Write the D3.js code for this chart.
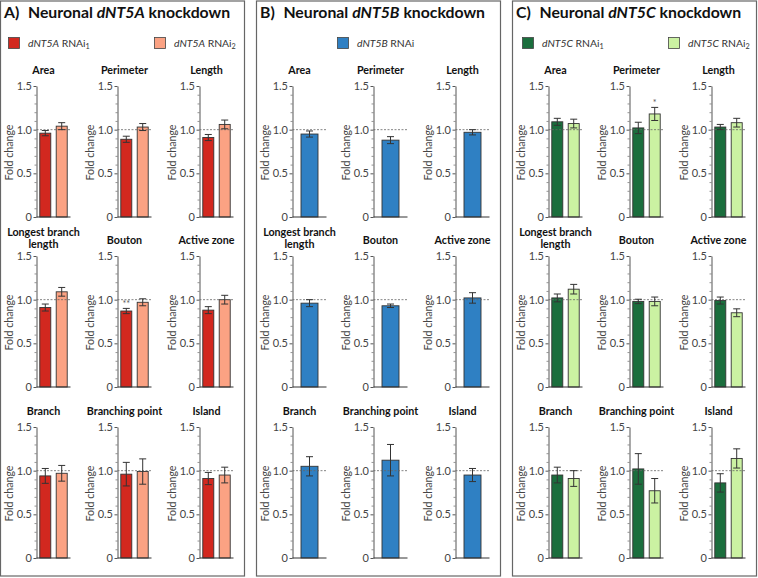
<!DOCTYPE html>
<html><head><meta charset="utf-8">
<script src="https://cdn.jsdelivr.net/npm/d3@7"></script>
<style>
body{margin:0;background:#fff;}
svg{display:block;font-family:Lato,"Open Sans",sans-serif;}
</style></head>
<body><svg id="c" width="758" height="578"></svg>
<script>
// ---------- data ----------
const metrics = ["Area","Perimeter","Length","Longest branch length","Bouton","Active zone","Branch","Branching point","Island"];
const metricTitleLines = [["Area"],["Perimeter"],["Length"],["Longest branch","length"],["Bouton"],["Active zone"],["Branch"],["Branching point"],["Island"]];
const yTicks = [0, 0.5, 1.0, 1.5];
const yTickLabels = ["0", "0.5", "1.0", "1.5"];

const dNT5A_RNAi1_mean = [0.96, 0.89, 0.91, 0.91, 0.87, 0.88, 0.94, 0.96, 0.91];
const dNT5A_RNAi1_sem  = [0.03, 0.035, 0.035, 0.04, 0.03, 0.04, 0.085, 0.135, 0.07];
const dNT5A_RNAi2_mean = [1.04, 1.03, 1.06, 1.09, 0.97, 1.00, 0.97, 0.99, 0.95];
const dNT5A_RNAi2_sem  = [0.04, 0.04, 0.05, 0.05, 0.04, 0.05, 0.09, 0.145, 0.09];

const dNT5B_RNAi_mean = [0.95, 0.88, 0.97, 0.96, 0.93, 1.02, 1.05, 1.12, 0.95];
const dNT5B_RNAi_sem  = [0.035, 0.04, 0.03, 0.04, 0.02, 0.06, 0.11, 0.18, 0.075];

const dNT5C_RNAi1_mean = [1.09, 1.02, 1.03, 1.02, 0.98, 0.99, 0.95, 1.02, 0.86];
const dNT5C_RNAi1_sem  = [0.04, 0.065, 0.03, 0.045, 0.025, 0.04, 0.09, 0.175, 0.105];
const dNT5C_RNAi2_mean = [1.07, 1.18, 1.08, 1.12, 0.98, 0.85, 0.91, 0.77, 1.14];
const dNT5C_RNAi2_sem  = [0.05, 0.075, 0.05, 0.055, 0.05, 0.045, 0.09, 0.14, 0.11];

// significance marks: [series index, metric index, label]
const dNT5A_sig = [[0, 4, "**"]];
const dNT5B_sig = [];
const dNT5C_sig = [[1, 1, "*"]];

const panels = [
  {letter:"A)", gene:"dNT5A", series:[
     {name:"RNAi", sub:"1", mean:dNT5A_RNAi1_mean, sem:dNT5A_RNAi1_sem, color:"#d2281f"},
     {name:"RNAi", sub:"2", mean:dNT5A_RNAi2_mean, sem:dNT5A_RNAi2_sem, color:"#fba283"}], sig:dNT5A_sig},
  {letter:"B)", gene:"dNT5B", series:[
     {name:"RNAi", sub:"", mean:dNT5B_RNAi_mean, sem:dNT5B_RNAi_sem, color:"#2f80c3"}], sig:dNT5B_sig},
  {letter:"C)", gene:"dNT5C", series:[
     {name:"RNAi", sub:"1", mean:dNT5C_RNAi1_mean, sem:dNT5C_RNAi1_sem, color:"#1b6e3d"},
     {name:"RNAi", sub:"2", mean:dNT5C_RNAi2_mean, sem:dNT5C_RNAi2_sem, color:"#cbf2a2"}], sig:dNT5C_sig}
];

// ---------- layout ----------
const svg = d3.select("#c");
const panelX = [0.5, 256.5, 512.5];
const panelW = 244, panelTop = 1, panelH = 575;
const colAxis = [36, 117, 199];
const rowBase = [217, 387, 558];
const plotH = 131, plotW = 34;
const legendLayouts = [[8, 154], [81], [10, 156]];
const textCol = "#333";

// text builders (used for measuring and drawing)
function panelTitle(parent, x, y, fs, letter, gene) {
  const t = parent.append("text").attr("x", x).attr("y", y)
    .attr("font-size", fs).attr("font-weight", "bold").attr("fill", "#111");
  t.append("tspan").text(letter);
  t.append("tspan").attr("dx", fs * 0.55).text("Neuronal ");
  t.append("tspan").attr("font-style", "italic").text(gene);
  t.append("tspan").text(" knockdown");
  return t;
}
function legendText(parent, x, y, fs, gene, name, sub) {
  const lt = parent.append("text").attr("x", x).attr("y", y).attr("font-size", fs).attr("fill", textCol);
  lt.append("tspan").attr("font-style", "italic").text(gene);
  lt.append("tspan").text(" " + name);
  if (sub) lt.append("tspan").attr("font-size", fs * 0.7).attr("dy", fs * 0.22).text(sub);
  return lt;
}
function plainText(parent, x, y, fs, weight, str) {
  return parent.append("text").attr("x", x).attr("y", y).attr("font-size", fs).attr("font-weight", weight).text(str);
}
function fit(builder, target) {
  const base = 12;
  const el = builder(base);
  const w = el.node().getBBox().width;
  el.remove();
  return base * target / w;
}
const fsPanel = fit(fs => panelTitle(svg, 0, 50, fs, "A)", "dNT5A"), 228);
const fsLeg = fit(fs => legendText(svg, 0, 50, fs, "dNT5A", "RNAi", "1"), 62);
const fsSub = fit(fs => plainText(svg, 0, 50, fs, "bold", "Branching point"), 76);
const fsYLab = fit(fs => plainText(svg, 0, 50, fs, "normal", "Fold change"), 56);
const fsTick = 11;

panels.forEach((p, pi) => {
  const px = panelX[pi];
  const g = svg.append("g");
  g.append("rect").attr("x", px).attr("y", panelTop).attr("width", panelW).attr("height", panelH)
    .attr("fill", "none").attr("stroke", "#666").attr("stroke-width", 1.2);

  panelTitle(g, px + 3.5, 18, fsPanel, p.letter, p.gene);

  // legend
  p.series.forEach((s, si) => {
    const lx = px + legendLayouts[pi][si];
    g.append("rect").attr("x", lx).attr("y", 37.5).attr("width", 11).attr("height", 11)
      .attr("fill", s.color).attr("stroke", "#444").attr("stroke-width", 0.8);
    legendText(g, lx + 19.5, 47, fsLeg, p.gene, s.name, s.sub);
  });

  metrics.forEach((m, mi) => {
    const r = Math.floor(mi / 3), c = mi % 3;
    const ax = px + colAxis[c];
    const y0 = rowBase[r];
    const y = d3.scaleLinear().domain([0, 1.5]).range([y0, y0 - plotH]);
    const x = d3.scaleBand().domain(p.series.map((s, i) => i)).range([ax, ax + plotW]);
    if (p.series.length === 1) x.paddingInner(0).paddingOuter(0.5);
    else x.paddingInner(0.33).paddingOuter(0.2);

    const cg = g.append("g");
    // title
    const lines = metricTitleLines[mi];
    const singleBase = (y0 - plotH) - 12;
    lines.forEach((ln, li) => {
      const yy = lines.length === 1 ? singleBase : singleBase + 3.5 - (lines.length - 1 - li) * 11.5;
      plainText(cg, ax + 7, yy, fsSub, "bold", ln).attr("text-anchor", "middle").attr("fill", "#111");
    });

    // minor ticks
    const minor = d3.range(1, 15).map(d => d / 10).filter(v => Math.abs(v - 0.5) > 1e-6 && Math.abs(v - 1.0) > 1e-6);
    cg.append("g").attr("transform", `translate(${ax},0)`)
      .call(d3.axisLeft(y).tickValues(minor).tickSize(2).tickFormat(""))
      .call(a => a.select(".domain").remove())
      .call(a => a.selectAll("line").attr("stroke", "#666").attr("stroke-width", 0.7));
    // major axis
    cg.append("g").attr("transform", `translate(${ax},0)`)
      .call(d3.axisLeft(y).tickValues(yTicks).tickSize(3).tickSizeOuter(0).tickPadding(1.5)
        .tickFormat((d, i) => yTickLabels[i]))
      .call(a => a.select(".domain").attr("stroke", "#555"))
      .call(a => a.selectAll("line").attr("stroke", "#555"))
      .call(a => a.selectAll("text").attr("font-size", fsTick).attr("fill", "#444").attr("font-family", "Lato,'Open Sans',sans-serif"));

    // y label
    cg.append("text").attr("transform", `translate(${ax - 23.5},${y0 - plotH / 2 + 1}) rotate(-90)`)
      .attr("text-anchor", "middle").attr("font-size", fsYLab).attr("fill", "#444").text("Fold change");

    // bars
    p.series.forEach((s, si) => {
      cg.append("rect").attr("x", x(si)).attr("y", y(s.mean[mi]))
        .attr("width", x.bandwidth()).attr("height", y(0) - y(s.mean[mi]))
        .attr("fill", s.color).attr("stroke", "#333").attr("stroke-width", 0.9);
    });

    // dashed reference line at 1.0
    cg.append("line").attr("x1", ax).attr("x2", ax + plotW).attr("y1", y(1)).attr("y2", y(1))
      .attr("stroke", "#666").attr("stroke-width", 0.8).attr("stroke-dasharray", "2,1.5");

    // error bars
    p.series.forEach((s, si) => {
      const cx = x(si) + x.bandwidth() / 2;
      const hi = y(s.mean[mi] + s.sem[mi]), lo = y(s.mean[mi] - s.sem[mi]);
      const eg = cg.append("g").attr("stroke", "#333").attr("stroke-width", 1);
      eg.append("line").attr("x1", cx).attr("x2", cx).attr("y1", hi).attr("y2", lo);
      eg.append("line").attr("x1", cx - 3.5).attr("x2", cx + 3.5).attr("y1", hi).attr("y2", hi);
      eg.append("line").attr("x1", cx - 3.5).attr("x2", cx + 3.5).attr("y1", lo).attr("y2", lo);
    });

    // baseline
    cg.append("line").attr("x1", ax).attr("x2", ax + plotW).attr("y1", y0).attr("y2", y0)
      .attr("stroke", "#333").attr("stroke-width", 1);

    // significance
    p.sig.filter(sg => sg[1] === mi).forEach(sg => {
      const s = p.series[sg[0]];
      const cx = x(sg[0]) + x.bandwidth() / 2;
      cg.append("text").attr("x", cx).attr("y", y(s.mean[mi] + s.sem[mi]) - 1)
        .attr("text-anchor", "middle").attr("font-size", 9).attr("fill", "#555").text(sg[2]);
    });
  });
});
</script></body></html>
